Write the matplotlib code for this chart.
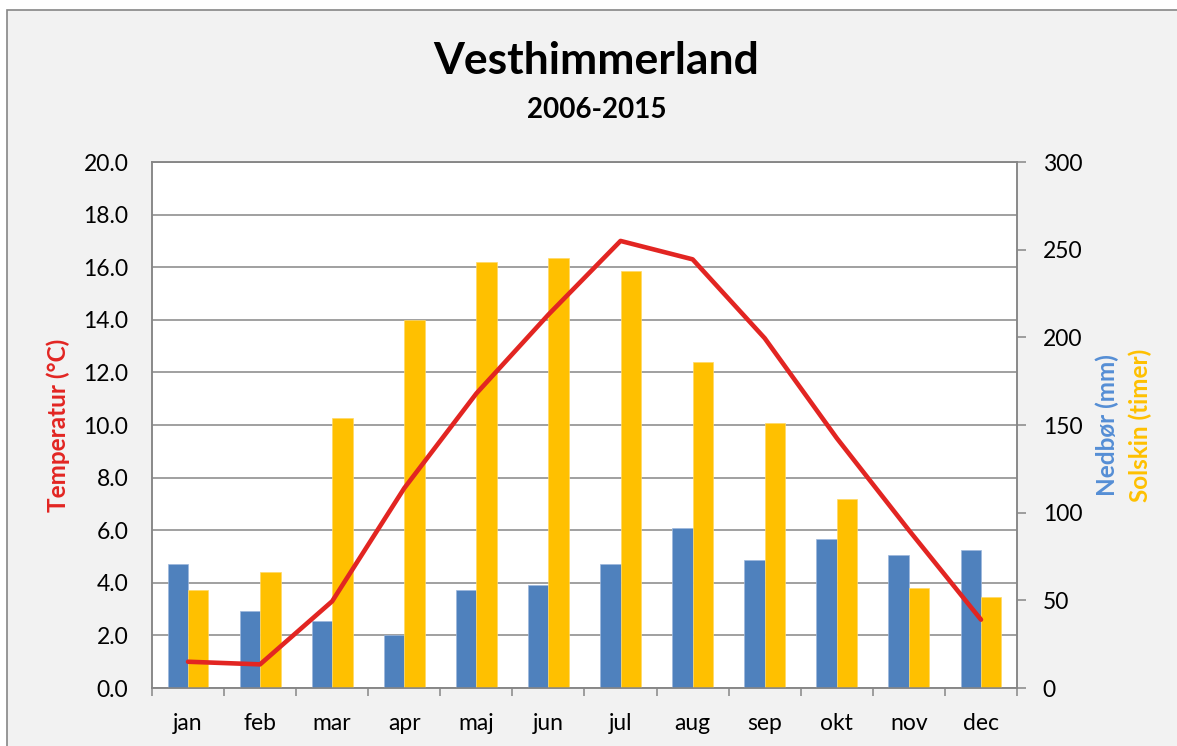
import numpy as np
import matplotlib.pyplot as plt
from matplotlib.patches import Rectangle

plt.rcParams['font.family'] = ['Lato', 'DejaVu Sans']

months = ['jan', 'feb', 'mar', 'apr', 'maj', 'jun', 'jul', 'aug', 'sep', 'okt', 'nov', 'dec']
temperatur = [1.0, 0.9, 3.3, 7.6, 11.2, 14.2, 17.0, 16.3, 13.3, 9.5, 6.0, 2.6]
nedboer = [71, 44, 38, 30, 56, 59, 71, 91, 73, 85, 76, 79]
solskin = [56, 66, 154, 210, 243, 245, 238, 186, 151, 108, 57, 52]

blue = '#4F81BD'
yellow = '#FFC000'
red = '#E22522'
grey = '#868686'

fig = plt.figure(figsize=(11.77, 7.46), dpi=100, facecolor='white')
# grey chart area with a thin border
fig.patches.append(Rectangle((0.006, -0.2), 1.2, 1.1866, transform=fig.transFigure,
                             facecolor='#F2F2F2', edgecolor=grey, lw=1.2, zorder=-10))

ax1 = fig.add_axes([0.1291, 0.0777, 0.735, 0.7051])
ax1.set_facecolor('white')
x = np.arange(len(months))

# temperature scale, left, with gridlines
ax1.set_xlim(-0.5, 11.5)
ax1.set_ylim(0, 20)
ax1.set_yticks(np.arange(0, 20.1, 2))
ax1.set_yticklabels([f'{v:.1f}' for v in np.arange(0, 20.1, 2)])
ax1.yaxis.grid(True, color=grey, lw=1.1)
ax1.set_axisbelow(True)
ax1.tick_params(axis='y', length=0, pad=17, labelsize=16.5)
ax1.set_xticks(np.arange(-0.5, 12, 1))
ax1.set_xticklabels([])
ax1.set_xticks(x, minor=True)
ax1.set_xticklabels(months, minor=True)
ax1.tick_params(axis='x', which='major', length=6, width=1.1, color=grey)
ax1.tick_params(axis='x', which='minor', length=0, pad=18, labelsize=16.5)
for s in ax1.spines.values():
    s.set_color(grey)
    s.set_linewidth(1.1)

# rain and sunshine bars, right scale
ax2 = ax1.twinx()
w = 0.284
ax2.bar(x - w / 2, nedboer, w, color=blue, edgecolor='#9DB7DC', lw=0.5)
ax2.bar(x + w / 2, solskin, w, color=yellow, edgecolor='#FFD966', lw=0.5)
ax2.set_ylim(0, 300)
ax2.set_yticks(np.arange(0, 301, 50))
ax2.tick_params(axis='y', length=6.5, width=1.1, color=grey, pad=12, labelsize=16.5)
for s in ax2.spines.values():
    s.set_color(grey)
    s.set_linewidth(1.1)

# temperature line on top of the bars
ax3 = ax1.twinx()
ax3.set_ylim(0, 20)
ax3.plot(x, temperatur, color=red, lw=3.3, solid_capstyle='round', solid_joinstyle='round')
ax3.set_yticks([])
for s in ax3.spines.values():
    s.set_visible(False)

fig.text(0.5068, 0.918, 'Vesthimmerland', ha='center', va='center', fontsize=32, fontweight='bold')
fig.text(0.5068, 0.8525, '2006-2015', ha='center', va='center', fontsize=20, fontweight='bold')
fig.text(0.0493, 0.4303, 'Temperatur (°C)', rotation=90, ha='center', va='center',
         fontsize=17.5, fontweight='bold', color=red)
fig.text(0.9405, 0.4303, 'Nedbør (mm)', rotation=90, ha='center', va='center',
         fontsize=17.5, fontweight='bold', color='#558ED5')
fig.text(0.9686, 0.4303, 'Solskin (timer)', rotation=90, ha='center', va='center',
         fontsize=17.5, fontweight='bold', color=yellow)

fig.savefig('out.png', dpi=100, facecolor=fig.get_facecolor())
